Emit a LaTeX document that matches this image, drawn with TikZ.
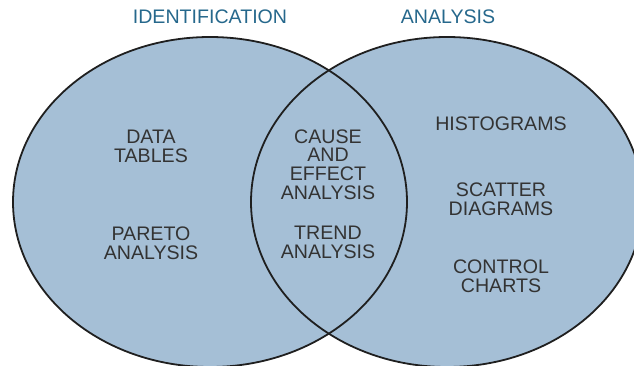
\documentclass[tikz,border=0pt]{standalone}
\usepackage{fontspec}
\setmainfont{Liberation Sans}
\begin{document}
\begin{tikzpicture}[x=1pt,y=-1pt,
  venn/.style={draw=black!88,line width=1.8pt},
  lbl/.style={align=center,text=black!80,font=\fontsize{19.6}{18.8}\selectfont,inner sep=0pt},
  ttl/.style={text={rgb,255:red,38;green,104;blue,140},font=\fontsize{19.6}{18.8}\selectfont,inner sep=0pt}]
\definecolor{vennfill}{RGB}{165,191,214}
\useasboundingbox (0,0) rectangle (634,366);
\clip (0,0) rectangle (634,366);
\fill[vennfill] (210,202) ellipse [x radius=197,y radius=165];
\fill[vennfill] (447,202) ellipse [x radius=196,y radius=165];
\draw[venn] (210,202) ellipse [x radius=197,y radius=165];
\draw[venn] (447,202) ellipse [x radius=196,y radius=165];
\node[ttl] (t1) at (210,17) {IDENTIFICATION};
\node[ttl] (t2) at (448,17) {ANALYSIS};
\node[lbl] (data) at (151,146) {DATA\\TABLES};
\node[lbl] (pareto) at (151,243) {PARETO\\ANALYSIS};
\node[lbl] (cause) at (328,164.5) {CAUSE\\AND\\EFFECT\\ANALYSIS};
\node[lbl] (trend) at (328,242.5) {TREND\\ANALYSIS};
\node[lbl] (hist) at (501,123.5) {HISTOGRAMS};
\node[lbl] (scatter) at (501,199) {SCATTER\\DIAGRAMS};
\node[lbl] (control) at (501,276.5) {CONTROL\\CHARTS};
\end{tikzpicture}
\end{document}
